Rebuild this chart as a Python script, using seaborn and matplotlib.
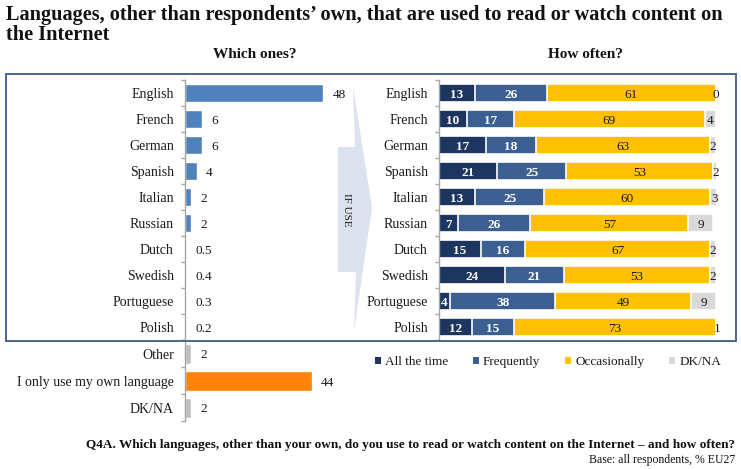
import matplotlib
matplotlib.use("Agg")
import matplotlib.pyplot as plt
from matplotlib.patches import Rectangle, Polygon, Patch
import seaborn as sns
import pandas as pd
import numpy as np

# ---------------- data ----------------
languages = ["English", "French", "German", "Spanish", "Italian", "Russian",
             "Dutch", "Swedish", "Portuguese", "Polish"]
which_ones = [48, 6, 6, 4, 2, 2, 0.5, 0.4, 0.3, 0.2]
which_labels = ["48", "6", "6", "4", "2", "2", "0.5", "0.4", "0.3", "0.2"]

other_cats = ["Other", "I only use my own language", "DK/NA"]
other_vals = [2, 44, 2]

all_the_time = [13, 10, 17, 21, 13, 7, 15, 24, 4, 12]
frequently = [26, 17, 18, 25, 25, 26, 16, 21, 38, 15]
occasionally = [61, 69, 63, 53, 60, 57, 67, 53, 49, 73]
dk_na = [0, 4, 2, 2, 3, 9, 2, 2, 9, 1]
series_names = ["All the time", "Frequently", "Occasionally", "DK/NA"]

# ---------------- style ----------------
sns.set_theme(style="white")
plt.rcParams["font.family"] = ["Liberation Serif", "DejaVu Serif"]
plt.rcParams["axes.facecolor"] = "white"

C_DARK = "#1C3660"
C_FREQ = "#3C5F91"
C_OCC = "#FFC000"
C_DK = "#D9D9D9"
C_LEFT = "#4F81BD"
C_ORANGE = "#FF8409"
C_GRAY = "#BFBFBF"
C_SPINE = "#A6A6A6"
TXT = "#1a1a1a"

W, H = 741, 469
fig = plt.figure(figsize=(W / 100, H / 100), dpi=100)


def ax_px(left, top, right, bottom):
    return fig.add_axes([left / W, 1 - bottom / H, (right - left) / W, (bottom - top) / H])


def fx(x):
    return x / W


def fy(y):
    return 1 - y / H


# ---------------- frame & arrow (behind) ----------------
fig.patches.append(Rectangle((fx(5.5), fy(341)), fx(736) - fx(5.5), fy(74) - fy(341),
                             transform=fig.transFigure, fill=False,
                             edgecolor="#4A6890", linewidth=1.4, zorder=0))
arrow_pts = [(353, 86), (372, 208), (354, 331), (356, 272), (338, 272), (338, 147), (355, 147)]
fig.patches.append(Polygon([(fx(x), fy(y)) for x, y in arrow_pts], closed=True,
                           transform=fig.transFigure, facecolor="#DCE3EE",
                           edgecolor="none", zorder=0))
fig.text(fx(347), fy(210), "IF USE", rotation=270, ha="center", va="center",
         fontsize=8, color=TXT)

# ---------------- left top ----------------
SCALE = 2.875  # px per unit
axL = ax_px(185, 80, 335, 340)
dfL = pd.DataFrame({"lang": languages, "val": which_ones})
sns.barplot(data=dfL, x="val", y="lang", orient="h", color=C_LEFT, saturation=1,
            width=0.72, ax=axL)
axL.set_xlim(0, 150 / SCALE)
axL.set_ylim(9.5, -0.5)
for i, (v, lab) in enumerate(zip(which_ones, which_labels)):
    axL.text(v + 3.3, i, lab, ha="left", va="center_baseline", fontsize=9.5, color=TXT)

# ---------------- left bottom ----------------
axB = ax_px(185, 340.5, 335, 421.5)
dfB = pd.DataFrame({"cat": other_cats, "val": other_vals})
sns.barplot(data=dfB, x="val", y="cat", hue="cat", orient="h",
            palette=[C_GRAY, C_ORANGE, C_GRAY], saturation=1, width=0.72,
            legend=False, ax=axB)
axB.set_xlim(0, 150 / SCALE)
axB.set_ylim(2.5, -0.5)
for i, v in enumerate(other_vals):
    axB.text(v + 3.3, i, f"{v}", ha="left", va="center_baseline", fontsize=9.5, color=TXT)

# ---------------- right stacked ----------------
axR = ax_px(439, 80, 716, 340)
cum1 = np.array(all_the_time, float)
cum2 = cum1 + np.array(frequently)
cum3 = cum2 + np.array(occasionally)
cum4 = cum3 + np.array(dk_na)
layers = [(cum4, C_DK), (cum3, C_OCC), (cum2, C_FREQ), (cum1, C_DARK)]
for cum, col in layers:
    d = pd.DataFrame({"lang": languages, "val": cum})
    sns.barplot(data=d, x="val", y="lang", orient="h", color=col, saturation=1,
                width=0.72, edgecolor="white", linewidth=1.2, ax=axR)
axR.set_xlim(0, 100)
axR.set_ylim(9.5, -0.5)

starts = [np.zeros(10), cum1, cum2, cum3]
vals = [all_the_time, frequently, occasionally, dk_na]
txtcols = ["white", "white", TXT, TXT]
weights = ["bold", "bold", "normal", "normal"]
for s, v, tc, wgt in zip(starts, vals, txtcols, weights):
    for i in range(10):
        axR.text(s[i] + v[i] / 2, i, f"{v[i]}", ha="center", va="center_baseline",
                 fontsize=9.5, color=tc, fontweight=wgt, clip_on=False)

# ---------------- axis cosmetics ----------------
for ax, n in [(axL, 10), (axB, 3), (axR, 10)]:
    for sp in ["top", "right", "bottom"]:
        ax.spines[sp].set_visible(False)
    ax.spines["left"].set_color(C_SPINE)
    ax.spines["left"].set_linewidth(1.0)
    ax.set_xlabel("")
    ax.set_ylabel("")
    ax.set_xticks([])
    ax.set_yticks(np.arange(-0.5, n, 1.0), minor=True)
    ax.tick_params(axis="y", which="minor", length=3, color=C_SPINE, width=1,
                   direction="out", left=True)
    ax.tick_params(axis="y", which="major", length=0, pad=8, labelsize=10,
                   labelcolor=TXT)
    ax.patch.set_alpha(0)

# ---------------- titles ----------------
fig.text(fx(6), fy(15), "Languages, other than respondents\u2019 own, that are used to read or watch content on",
         ha="left", va="center", fontsize=14.6, fontweight="bold", color="#111111")
fig.text(fx(6), fy(35), "the Internet", ha="left", va="center", fontsize=14.6,
         fontweight="bold", color="#111111")
fig.text(fx(255), fy(54), "Which ones?", ha="center", va="center", fontsize=11,
         fontweight="bold", color="#111111")
fig.text(fx(585), fy(54), "How often?", ha="center", va="center", fontsize=11,
         fontweight="bold", color="#111111")

# ---------------- legend ----------------
handles = [Patch(facecolor=c, edgecolor="none") for c in [C_DARK, C_FREQ, C_OCC, C_DK]]
fig.legend(handles, series_names, loc="center", bbox_to_anchor=(fx(548), fy(362)),
           ncol=4, frameon=False, fontsize=9.5, handlelength=0.45, handleheight=0.45,
           handletextpad=0.3, columnspacing=1.9, labelcolor=TXT)

# ---------------- footnotes ----------------
fig.text(fx(735), fy(445),
         "Q4A. Which languages, other than your own, do you use to read or watch content on the Internet \u2013 and how often?",
         ha="right", va="center", fontsize=9.5, fontweight="bold", color="#111111")
fig.text(fx(735), fy(460), "Base: all respondents, % EU27", ha="right", va="center",
         fontsize=8.5, color="#111111")

fig.savefig("out.png", dpi=100, facecolor="white")
